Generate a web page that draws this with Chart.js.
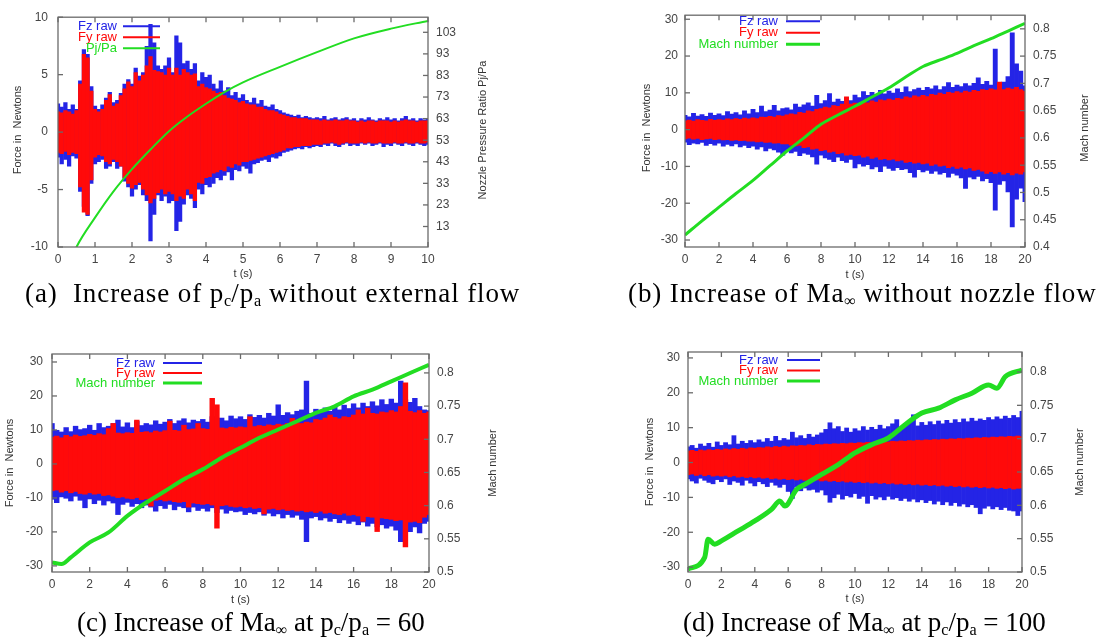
<!DOCTYPE html>
<html>
<head>
<meta charset="utf-8">
<script src="https://cdn.jsdelivr.net/npm/chart.js@4.4.1/dist/chart.umd.min.js"></script>
<style>
  body { margin: 0; width: 1101px; height: 641px; background: #fff; position: relative; overflow: hidden; }
  .panel { position: absolute; }
  .cap { position: absolute; font-family: "Liberation Serif", "Times New Roman", serif; font-size: 27px; line-height: 30px; color: #000; white-space: nowrap; }
  .cap.wide { letter-spacing: 0.9px; }
  .cap sub { font-size: 60%; vertical-align: -0.25em; line-height: 0; letter-spacing: 0; }
</style>
</head>
<body>
<div class="panel" style="left:0;top:0"><canvas id="chartA" width="550" height="285"></canvas></div>
<div class="panel" style="left:560px;top:0"><canvas id="chartB" width="541" height="285"></canvas></div>
<div class="panel" style="left:0;top:320px"><canvas id="chartC" width="550" height="290"></canvas></div>
<div class="panel" style="left:560px;top:320px"><canvas id="chartD" width="541" height="290"></canvas></div>

<div class="cap wide" style="left:25px;top:278px">(a)&nbsp; Increase of p<sub>c</sub>/p<sub>a</sub> without external flow</div>
<div class="cap wide" style="left:628px;top:278px">(b) Increase of Ma<sub>∞</sub> without nozzle flow</div>
<div class="cap" style="left:77px;top:607px">(c) Increase of Ma<sub>∞</sub> at p<sub>c</sub>/p<sub>a</sub> = 60</div>
<div class="cap" style="left:683px;top:607px">(d) Increase of Ma<sub>∞</sub> at p<sub>c</sub>/p<sub>a</sub> = 100</div>

<script>
// ---- (a) pc/pa ramp, no external flow: force envelopes every 0.1 s ----
const stepA = 0.1;
const fzHiA = [2.5,2.2,2.6,2.0,2.4,2.0,4.5,7.2,6.8,4.0, 2.3,2.0,2.4,3.0,3.5,2.6,2.8,3.4,4.2,4.6,
  4.2,5.6,4.9,5.2,7.5,9.4,7.8,5.8,5.5,5.8, 6.5,5.2,8.4,7.8,6.0,6.2,5.5,6.0,4.5,5.2,
  4.8,5.0,4.2,3.8,4.5,3.6,3.9,3.2,3.5,3.0, 3.3,2.8,2.6,3.0,2.5,2.8,2.3,2.2,2.4,2.0,
  1.9,1.7,1.6,1.5,1.4,1.5,1.3,1.4,1.3,1.2, 1.3,1.2,1.4,1.1,1.2,1.3,1.1,1.2,1.3,1.1,
  1.2,1.0,1.2,1.1,1.3,1.1,1.0,1.2,1.1,1.3, 1.1,1.2,1.0,1.2,1.4,1.1,1.2,1.0,1.2,1.1, 1.2];
const fzLoA = [-2.2,-2.8,-2.4,-3.0,-2.1,-2.3,-5.2,-6.5,-7.3,-4.5, -2.8,-2.6,-2.4,-3.2,-3.0,-2.6,-3.2,-3.0,-4.3,-4.8,
  -5.6,-5.0,-4.6,-5.5,-6.0,-9.5,-7.2,-5.5,-6.0,-5.6, -6.2,-6.0,-8.6,-7.8,-6.3,-5.5,-5.8,-6.6,-5.0,-5.4,
  -4.6,-4.8,-4.5,-4.0,-4.2,-3.8,-3.5,-4.2,-3.3,-3.4, -3.0,-3.2,-3.6,-2.8,-2.7,-2.5,-2.4,-2.6,-2.2,-2.3,
  -2.1,-1.8,-1.7,-1.6,-1.5,-1.4,-1.5,-1.3,-1.4,-1.3, -1.2,-1.3,-1.1,-1.2,-1.0,-1.2,-1.3,-1.1,-1.0,-1.2,
  -1.1,-1.2,-1.0,-1.1,-1.0,-1.2,-1.1,-1.0,-1.3,-1.1, -1.2,-1.0,-1.1,-1.2,-1.0,-1.1,-1.2,-1.0,-1.1,-1.2, -1.1];
const fyHiA = [1.8,1.7,1.9,1.8,1.6,1.9,4.2,6.8,6.5,3.6, 2.0,1.8,2.0,2.8,3.3,2.3,2.5,3.2,3.8,4.4,
  4.0,5.2,4.5,5.0,5.8,6.6,5.4,5.3,5.2,5.0, 5.6,5.0,5.6,5.0,5.5,5.2,5.0,5.1,4.0,4.2,
  3.9,3.8,3.6,3.4,3.5,3.2,3.0,2.9,2.8,2.6, 2.7,2.5,2.4,2.4,2.2,2.2,2.0,1.9,1.9,1.8,
  1.6,1.5,1.4,1.3,1.3,1.2,1.2,1.2,1.1,1.1, 1.1,1.0,1.1,1.0,1.0,1.1,1.0,1.0,1.1,1.0,
  1.0,0.9,1.0,0.9,1.0,1.0,0.9,1.0,1.0,1.0, 0.9,1.0,0.9,1.0,1.1,1.0,1.0,0.9,1.0,1.0, 1.0];
const fyLoA = [-1.8,-1.9,-1.7,-2.0,-1.8,-1.9,-4.8,-7.0,-7.2,-4.2, -2.2,-2.0,-2.1,-2.6,-2.8,-2.4,-2.6,-3.0,-4.0,-4.5,
  -4.9,-4.6,-4.4,-5.0,-5.5,-6.2,-5.8,-5.3,-5.0,-5.4, -5.2,-5.4,-6.0,-5.6,-5.8,-5.0,-5.4,-6.0,-4.4,-4.5,
  -4.0,-3.9,-3.6,-3.5,-3.3,-3.4,-3.0,-3.1,-2.8,-2.9, -2.6,-2.6,-2.5,-2.4,-2.3,-2.2,-2.1,-2.0,-1.9,-1.8,
  -1.7,-1.6,-1.4,-1.4,-1.3,-1.3,-1.2,-1.2,-1.2,-1.1, -1.1,-1.1,-1.0,-1.0,-0.9,-1.0,-1.1,-1.0,-0.9,-1.0,
  -1.0,-1.0,-0.9,-1.0,-0.9,-1.0,-1.0,-0.9,-1.0,-1.0, -1.0,-0.9,-1.0,-1.0,-0.9,-1.0,-1.0,-0.9,-1.0,-1.0, -0.9];
const pjTimeA = [0.45, 0.5, 1, 1.5, 2, 2.5, 3, 3.5, 4, 4.5, 5, 6, 7, 8, 9, 10];
const pjRatioA = [1.5, 3.5, 17.1, 29.3, 39.6, 48.7, 57.2, 64.0, 69.9, 75.3, 79.8, 87.0, 93.8, 100.2, 104.7, 108.3];

// ---- (b) Mach ramp, no nozzle flow: envelopes every 0.25 s ----
const stepBCD = 0.25;
const fzHiB = [4.0,3.6,4.5,3.8,4.2,3.7,4.6,4.0, 4.4,3.9,5.0,4.3,4.7,4.1,5.2,4.4,
  5.6,4.7,6.5,5.0,5.4,6.7,5.2,5.8, 6.0,5.5,7.0,6.2,6.8,7.4,6.5,9.4,
  7.2,8.0,9.9,7.6,8.4,7.8,8.8,8.0, 9.5,8.8,10.4,9.4,10.2,9.6,10.8,9.8,
  10.6,10.0,11.2,10.2,11.7,10.4,11.0,11.4, 10.8,11.6,11.2,12.0,11.0,11.8,12.9,11.6,
  12.2,11.8,12.6,12.0,12.7,14.2,12.4,13.2, 12.2,22.0,12.5,13.0,14.5,26.4,18.0,16.0, 12.0];
const fzLoB = [-3.5,-4.2,-3.8,-4.0,-3.6,-4.4,-3.9,-4.3, -3.8,-4.6,-4.1,-4.5,-4.0,-4.8,-4.4,-5.0,
  -4.6,-5.4,-4.8,-5.9,-5.2,-5.6,-6.2,-7.0, -5.8,-6.4,-6.0,-7.2,-6.5,-6.8,-7.5,-9.5,
  -7.0,-7.8,-8.2,-8.8,-7.6,-8.5,-9.0,-8.2, -10.5,-9.4,-10.0,-9.6,-10.8,-10.2,-11.5,-10.0,
  -10.6,-11.2,-10.4,-11.0,-10.8,-11.8,-13.0,-11.0, -11.6,-11.2,-12.0,-11.4,-12.2,-11.8,-13.0,-12.0,
  -12.5,-13.2,-16.1,-13.0,-13.5,-12.8,-14.0,-13.4, -14.5,-22.0,-15.0,-14.0,-17.0,-26.5,-19.0,-16.0, -19.7];
const fyHiB = [2.5,2.7,2.4,2.8,2.6,2.5,2.9,2.6, 2.8,2.7,3.0,2.8,3.1,2.9,3.2,3.0,
  3.3,3.1,3.5,3.4,3.7,3.5,3.9,3.8, 4.1,4.4,4.2,4.8,4.6,5.2,5.0,5.6,
  5.8,6.2,6.0,6.6,6.4,7.0,9.0,7.0, 7.3,7.0,7.6,7.4,7.9,7.6,8.2,8.0,
  8.4,8.1,8.6,8.4,9.0,8.7,9.3,9.0, 9.4,9.1,9.7,9.5,10.0,9.7,10.2,10.0,
  10.4,10.1,10.6,10.3,10.8,10.5,11.0,10.8, 11.2,10.9,13.0,11.0,11.4,11.1,11.6,11.0, 10.6];
const fyLoB = [-2.6,-2.4,-2.7,-2.5,-2.8,-2.6,-2.5,-2.8, -2.7,-2.9,-2.8,-3.0,-2.9,-3.1,-3.0,-3.2,
  -3.2,-3.4,-3.3,-3.6,-3.5,-3.8,-3.7,-4.0, -4.0,-4.3,-4.5,-4.4,-5.0,-4.8,-5.4,-5.2,
  -5.8,-5.6,-6.2,-6.0,-6.6,-6.4,-7.0,-6.8, -7.2,-7.0,-7.6,-7.3,-7.9,-7.6,-8.2,-8.0,
  -8.3,-8.1,-8.6,-8.4,-9.0,-8.8,-9.2,-9.0, -9.4,-9.2,-9.8,-9.5,-10.0,-9.8,-10.4,-10.1,
  -10.6,-10.3,-10.8,-10.5,-11.2,-10.9,-11.4,-12.0, -11.5,-12.0,-11.6,-12.2,-11.8,-12.4,-11.9,-12.2, -11.6];
const machTimeB = [0,1,2,3,4,5,6,7,8,9,10,11,12,13,14,15,16,17,18,19,20];
const machB = [0.422,0.448,0.473,0.498,0.522,0.549,0.576,0.600,0.625,0.642,0.658,0.675,0.692,0.712,0.731,0.743,0.755,0.769,0.782,0.796,0.810];

// ---- (c) Mach ramp at pc/pa = 60 ----
const fzHiC = [12.0,10.0,9.5,10.8,9.6,11.2,10.2,10.5, 11.5,10.0,12.0,10.8,11.2,12.0,13.0,11.0,
  12.2,10.8,12.6,11.4,12.0,11.6,12.8,11.8, 12.4,13.2,12.0,12.8,13.4,12.2,13.0,12.6,
  13.2,12.4,14.0,13.0,13.6,12.8,14.2,13.4, 14.0,13.2,14.6,13.8,14.4,13.6,15.0,14.2,
  17.5,14.4,15.2,14.6,15.6,16.0,24.5,15.0, 16.2,15.4,16.6,15.6,17.0,16.0,17.4,16.4,
  17.8,16.6,18.0,17.0,18.4,17.2,19.0,17.6, 19.2,18.0,24.5,19.0,18.2,19.4,17.0,16.0, 15.8];
const fzLoC = [-10.5,-11.5,-9.8,-10.2,-11.0,-9.6,-10.8,-13.0, -10.4,-11.8,-10.8,-12.2,-11.0,-11.6,-15.0,-12.0,
  -11.4,-12.6,-11.8,-13.0,-12.2,-12.8,-14.0,-12.4, -13.2,-12.0,-13.6,-12.6,-13.0,-14.2,-12.8,-13.8,
  -13.2,-14.0,-13.0,-14.4,-13.4,-14.6,-13.8,-14.2, -14.0,-15.0,-14.4,-14.8,-14.2,-15.2,-14.6,-15.4,
  -14.8,-16.0,-15.0,-15.8,-15.2,-16.4,-23.0,-16.0, -15.6,-16.6,-16.0,-17.0,-16.2,-17.4,-16.6,-17.6,
  -17.0,-18.0,-17.2,-18.4,-17.6,-18.6,-18.0,-19.0, -18.4,-19.6,-23.0,-19.0,-20.0,-18.6,-20.4,-17.6, -17.0];
const fyHiC = [8.0,8.3,7.8,8.5,8.1,8.6,8.2,8.4, 8.8,8.5,9.0,8.7,10.5,12.0,9.2,9.0,
  9.3,9.1,13.0,9.4,9.6,9.3,9.8,9.5, 9.9,12.7,10.0,9.8,11.5,10.2,10.4,12.0,
  10.5,10.3,19.4,17.5,10.7,10.5,10.9,10.7, 11.0,10.8,14.0,11.1,11.4,11.2,11.6,11.4,
  11.8,11.6,12.0,13.5,12.2,12.0,12.4,12.2, 13.2,13.0,13.6,14.5,13.8,13.4,14.0,13.8,
  14.5,16.0,14.8,16.5,15.0,14.8,15.4,15.2, 15.8,15.4,17.0,24.0,15.6,15.2,15.8,15.0, 15.4];
const fyLoC = [-8.0,-7.8,-8.4,-8.0,-8.6,-8.2,-8.8,-9.0, -8.6,-9.0,-8.8,-9.4,-9.2,-9.6,-10.0,-9.8,
  -10.2,-10.4,-10.0,-10.6,-10.4,-12.5,-10.8,-10.6, -11.0,-10.8,-11.2,-11.4,-11.2,-12.8,-11.6,-11.8,
  -12.0,-11.8,-12.2,-19.0,-12.4,-12.2,-12.6,-12.8, -12.6,-13.0,-12.8,-13.2,-13.0,-14.8,-13.4,-13.2,
  -13.6,-13.4,-13.8,-13.6,-14.0,-13.8,-14.2,-14.0, -14.4,-14.0,-14.6,-14.4,-14.8,-15.0,-14.6,-15.2,
  -15.0,-15.4,-17.0,-15.6,-15.8,-20.0,-16.0,-16.2, -16.4,-16.8,-16.6,-24.5,-17.2,-17.0,-17.4,-15.8, -15.0];
const machTimeC = [0,0.5,1,2,3,4,5,6,7,8,9,10,11,12,13,14,15,16,17,18,19,20];
const machC = [0.5145,0.512,0.522,0.5446,0.5596,0.5845,0.6047,0.622,0.6396,0.6547,0.6722,0.6872,0.7022,0.7147,0.7272,0.7398,0.7497,0.7647,0.7748,0.7872,0.7998,0.8123];

// ---- (d) Mach ramp at pc/pa = 100 ----
const fzHiD = [4.6,5.0,4.2,5.4,4.8,5.6,4.5,6.0, 5.0,5.8,5.2,7.8,5.4,6.2,5.6,6.4,
  5.8,6.6,6.0,7.0,6.2,7.6,6.4,7.0, 6.6,8.8,7.2,7.8,7.0,8.2,7.4,8.0,
  8.6,9.6,11.5,9.8,10.4,9.0,10.0,8.8, 9.8,9.2,10.4,9.4,10.2,9.6,10.8,9.8,
  10.4,11.2,12.4,10.2,10.8,11.4,13.8,10.6, 11.6,10.8,11.8,11.0,12.0,11.2,12.2,11.4,
  12.4,11.6,12.6,11.8,12.8,12.0,12.6,12.2, 13.0,12.4,13.2,12.6,13.4,12.8,13.6,13.0, 14.8];
const fzLoD = [-4.8,-5.4,-6.0,-4.6,-5.2,-5.8,-6.2,-5.0, -5.6,-4.8,-6.4,-5.4,-5.8,-6.6,-5.2,-6.0,
  -6.8,-5.6,-6.2,-7.0,-5.8,-6.6,-7.2,-6.4, -8.4,-10.4,-7.0,-8.2,-7.4,-8.0,-7.8,-8.6,
  -8.0,-9.4,-11.5,-10.2,-9.2,-10.6,-9.6,-10.0, -9.0,-10.4,-9.8,-11.8,-9.6,-10.6,-10.0,-10.8,
  -9.8,-10.6,-10.2,-11.0,-10.4,-11.2,-10.6,-11.4, -10.8,-11.6,-11.0,-12.0,-11.2,-12.2,-11.4,-12.4,
  -11.6,-12.6,-12.0,-12.8,-12.2,-13.0,-14.8,-13.2, -12.6,-13.4,-12.8,-13.6,-13.0,-13.8,-14.0,-15.3, -14.0];
const fyHiD = [3.4,3.6,3.3,3.7,3.5,3.8,3.6,3.9, 3.7,4.0,3.8,4.1,3.9,4.2,4.0,4.3,
  4.2,4.4,4.3,4.6,4.4,4.7,4.5,4.8, 4.6,4.9,4.8,5.0,4.9,5.2,5.0,5.3,
  5.2,5.4,5.3,5.5,5.4,5.6,5.5,5.7, 5.6,5.8,5.7,5.9,5.8,6.0,5.9,6.1,
  6.0,6.2,6.1,6.3,6.2,6.4,6.3,6.5, 6.4,6.6,6.5,6.7,6.6,6.8,6.7,6.9,
  6.8,7.0,6.9,7.1,7.0,7.2,7.1,7.3, 7.2,7.4,7.3,7.5,7.4,7.6,7.5,7.7, 7.5];
const fyLoD = [-3.6,-3.4,-3.8,-3.5,-3.9,-3.6,-4.0,-3.8, -4.0,-3.8,-4.2,-3.9,-4.3,-4.1,-4.4,-4.2,
  -4.5,-4.3,-4.6,-4.4,-4.8,-4.6,-4.9,-4.7, -5.0,-4.8,-5.1,-4.9,-5.2,-5.0,-5.3,-5.1,
  -5.4,-5.2,-5.5,-5.3,-5.6,-5.4,-5.7,-5.5, -5.8,-5.6,-5.9,-5.7,-6.0,-5.8,-6.1,-5.9,
  -6.2,-6.0,-6.3,-6.1,-6.4,-6.2,-6.5,-6.3, -6.6,-6.4,-6.7,-6.5,-6.8,-6.6,-6.9,-6.7,
  -7.0,-6.8,-7.1,-6.9,-7.2,-7.0,-7.3,-7.1, -7.4,-7.2,-7.5,-7.3,-7.6,-7.4,-7.7,-7.5, -7.4];
const machTimeD = [0,1,1.2,1.6,2,3,4,5,5.5,5.8,6.5,7,8,9,10,11,12,13,14,15,16,17,18,18.5,19,20];
const machD = [0.5045,0.522,0.549,0.5418,0.5467,0.5616,0.5766,0.594,0.6064,0.599,0.6239,0.6313,0.6463,0.6612,0.6786,0.691,0.701,0.7209,0.7384,0.7458,0.7582,0.7682,0.7806,0.7757,0.793,0.803];

// ---- tick labels ----
const timeTicksA = [0,1,2,3,4,5,6,7,8,9,10];
const timeTicks20 = [0,2,4,6,8,10,12,14,16,18,20];
const forceTicksA = [-10,-5,0,5,10];
const forceTicks30 = [-30,-20,-10,0,10,20,30];
const pjTicksA = [13,23,33,43,53,63,73,83,93,103];
const machTicksB = [0.4,0.45,0.5,0.55,0.6,0.65,0.7,0.75,0.8];
const machTicksCD = [0.5,0.55,0.6,0.65,0.7,0.75,0.8];

const FONT = '"Liberation Sans", Arial, sans-serif';
const BLUE = "#2424e6";
const RED = "#ff0a0a";
const GREEN = "#22dd22";

Chart.defaults.font.family = FONT;
Chart.defaults.font.size = 12;
Chart.defaults.color = "#454545";

const times = (arr, step) => arr.map((_, i) => +(i * step).toFixed(3));
const bars = (t, lo, hi) => t.map((x, i) => ({ x, y: [lo[i], hi[i]] }));
const pts = (t, v) => t.map((x, i) => ({ x, y: v[i] }));

// gnuplot-like frame, inward ticks, key and axis titles
const frame = {
  id: "frame",
  afterDatasetsDraw(chart, args, o) {
    const { ctx, chartArea: a, scales } = chart;
    const line = (x0, y0, x1, y1) => { ctx.beginPath(); ctx.moveTo(x0, y0); ctx.lineTo(x1, y1); ctx.stroke(); };
    ctx.save();
    ctx.strokeStyle = "#6a6a6a";
    ctx.lineWidth = 1.3;
    ctx.strokeRect(a.left, a.top, a.width, a.height);
    const tl = 5;
    scales.x.ticks.forEach((t) => {
      const px = scales.x.getPixelForValue(t.value);
      line(px, a.bottom, px, a.bottom - tl);
      line(px, a.top, px, a.top + tl);
    });
    scales.y.ticks.forEach((t) => {
      const py = scales.y.getPixelForValue(t.value);
      line(a.left, py, a.left + tl, py);
    });
    scales.y2.ticks.forEach((t) => {
      const py = scales.y2.getPixelForValue(t.value);
      line(a.right, py, a.right - tl, py);
    });

    // key
    ctx.font = "13px " + FONT;
    ctx.textAlign = "right";
    ctx.textBaseline = "middle";
    o.key.forEach((k, i) => {
      const y = a.top + o.keyY + i * o.keyGap;
      ctx.fillStyle = k.color;
      ctx.fillText(k.text, a.left + o.keyText, y);
      ctx.strokeStyle = k.color;
      ctx.lineWidth = k.width;
      line(a.left + o.keyLine[0], y, a.left + o.keyLine[1], y);
    });

    // axis titles
    ctx.fillStyle = "#333";
    ctx.font = "11px " + FONT;
    ctx.textAlign = "center";
    ctx.fillText("t (s)", (a.left + a.right) / 2, o.xTitleY);
    [[o.yTitle, o.yTitleX], [o.y2Title, o.y2TitleX]].forEach(([text, x]) => {
      ctx.save();
      ctx.translate(x, o.titleY);
      ctx.rotate(-Math.PI / 2);
      ctx.fillText(text, 0, 0);
      ctx.restore();
    });
    ctx.restore();
  }
};

function panel(id, p) {
  const fix = (prop, v) => (s) => { s[prop] = v; };
  const setTicks = (vals) => (s) => { s.ticks = vals.map((value) => ({ value })); };
  const noGrid = { display: false, drawTicks: false };
  const barSet = (lo, hi, color) => ({
    data: bars(p.t, lo, hi),
    backgroundColor: color,
    grouped: false,
    barPercentage: 1.15,
    categoryPercentage: 1,
    borderWidth: 0,
    yAxisID: "y"
  });
  return new Chart(document.getElementById(id), {
    type: "bar",
    data: {
      datasets: [
        {
          type: "line",
          data: pts(p.lineT, p.lineV),
          yAxisID: "y2",
          borderColor: GREEN,
          borderWidth: p.lineW,
          pointRadius: 0,
          cubicInterpolationMode: "monotone"
        },
        barSet(p.fyLo, p.fyHi, RED),
        barSet(p.fzLo, p.fzHi, BLUE)
      ]
    },
    options: {
      responsive: false,
      animation: false,
      devicePixelRatio: 1,
      layout: { padding: { top: p.top, left: 0, right: 0, bottom: 0 } },
      plugins: {
        legend: { display: false },
        tooltip: { enabled: false },
        frame: p.frame
      },
      scales: {
        x: {
          type: "linear",
          min: 0,
          max: p.xMax,
          offset: false,
          grid: noGrid,
          border: { display: false },
          ticks: { padding: 5, maxRotation: 0, autoSkip: false },
          afterBuildTicks: setTicks(p.xTicks),
          afterFit: fix("height", p.bottom)
        },
        y: {
          position: "left",
          min: p.yMin,
          max: p.yMax,
          grid: noGrid,
          border: { display: false },
          ticks: { padding: p.padL, autoSkip: false },
          afterBuildTicks: setTicks(p.yTicks),
          afterFit: fix("width", p.left)
        },
        y2: {
          position: "right",
          min: p.y2Min,
          max: p.y2Max,
          grid: noGrid,
          border: { display: false },
          ticks: { padding: 8, autoSkip: false, callback: (v) => String(+Number(v).toFixed(2)) },
          afterBuildTicks: setTicks(p.y2Ticks),
          afterFit: fix("width", p.right)
        }
      }
    },
    plugins: [frame]
  });
}

const keyFz = { text: "Fz raw", color: BLUE, width: 2 };
const keyFy = { text: "Fy raw", color: RED, width: 2 };

panel("chartA", {
  t: times(fzHiA, stepA), fzHi: fzHiA, fzLo: fzLoA, fyHi: fyHiA, fyLo: fyLoA,
  lineT: pjTimeA, lineV: pjRatioA, lineW: 2,
  xMax: 10, xTicks: timeTicksA,
  yMin: -10, yMax: 10, yTicks: forceTicksA,
  y2Min: 3.5, y2Max: 110, y2Ticks: pjTicksA,
  top: 11, bottom: 38, left: 58, right: 122, padL: 10,
  frame: {
    key: [keyFz, keyFy, { text: "Pj/Pa", color: GREEN, width: 2 }],
    keyText: 59, keyLine: [65, 102], keyY: 9, keyGap: 11,
    xTitleY: 274, titleY: 130, yTitle: "Force in  Newtons", yTitleX: 18,
    y2Title: "Nozzle Pressure Ratio Pj/Pa", y2TitleX: 483
  }
});

panel("chartB", {
  t: times(fzHiB, stepBCD), fzHi: fzHiB, fzLo: fzLoB, fyHi: fyHiB, fyLo: fyLoB,
  lineT: machTimeB, lineV: machB, lineW: 3,
  xMax: 20, xTicks: timeTicks20,
  yMin: -31.9, yMax: 31.1, yTicks: forceTicks30,
  y2Min: 0.4, y2Max: 0.825, y2Ticks: machTicksB,
  top: 13, bottom: 38, left: 125, right: 76, padL: 7,
  frame: {
    key: [keyFz, keyFy, { text: "Mach number", color: GREEN, width: 3 }],
    keyText: 93, keyLine: [101, 135], keyY: 6, keyGap: 11.5,
    xTitleY: 275, titleY: 128, yTitle: "Force in  Newtons", yTitleX: 87,
    y2Title: "Mach number", y2TitleX: 525
  }
});

panel("chartC", {
  t: times(fzHiC, stepBCD), fzHi: fzHiC, fzLo: fzLoC, fyHi: fyHiC, fyLo: fyLoC,
  lineT: machTimeC, lineV: machC, lineW: 4,
  xMax: 20, xTicks: timeTicks20,
  yMin: -31.8, yMax: 32.35, yTicks: forceTicks30,
  y2Min: 0.5, y2Max: 0.8285, y2Ticks: machTicksCD,
  top: 34, bottom: 38, left: 52, right: 121, padL: 9,
  frame: {
    key: [keyFz, keyFy, { text: "Mach number", color: GREEN, width: 3 }],
    keyText: 103, keyLine: [111, 150], keyY: 9, keyGap: 10,
    xTitleY: 280, titleY: 143, yTitle: "Force in  Newtons", yTitleX: 10,
    y2Title: "Mach number", y2TitleX: 493
  }
});

panel("chartD", {
  t: times(fzHiD, stepBCD), fzHi: fzHiD, fzLo: fzLoD, fyHi: fyHiD, fyLo: fyLoD,
  lineT: machTimeD, lineV: machD, lineW: 5,
  xMax: 20, xTicks: timeTicks20,
  yMin: -31.4, yMax: 31.7, yTicks: forceTicks30,
  y2Min: 0.5, y2Max: 0.83, y2Ticks: machTicksCD,
  top: 32, bottom: 38, left: 128, right: 79, padL: 8,
  frame: {
    key: [keyFz, keyFy, { text: "Mach number", color: GREEN, width: 3 }],
    keyText: 90, keyLine: [99, 132], keyY: 8, keyGap: 10.5,
    xTitleY: 279, titleY: 142, yTitle: "Force in  Newtons", yTitleX: 90,
    y2Title: "Mach number", y2TitleX: 520
  }
});
</script>
</body>
</html>
